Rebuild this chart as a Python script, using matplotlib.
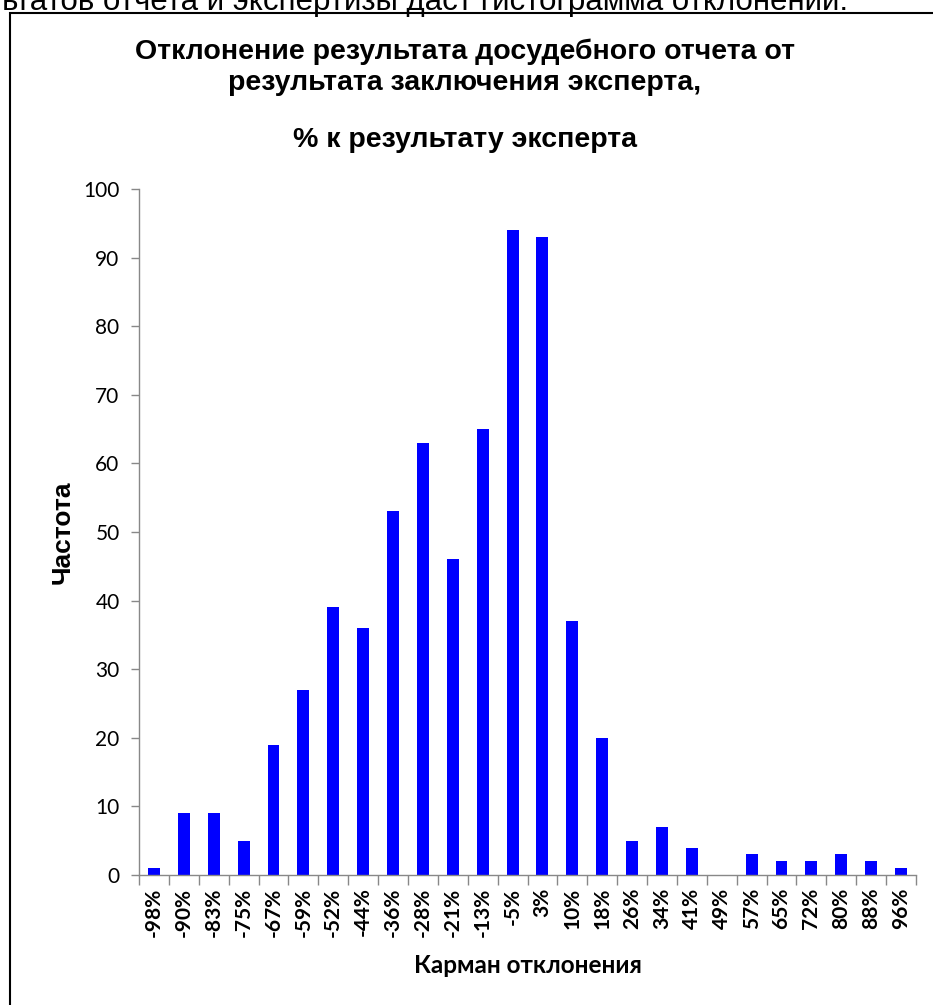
import matplotlib.pyplot as plt
from matplotlib.patches import Rectangle

# карманы отклонения и частоты
karmany = ['-98%', '-90%', '-83%', '-75%', '-67%', '-59%', '-52%', '-44%', '-36%',
           '-28%', '-21%', '-13%', '-5%', '3%', '10%', '18%', '26%', '34%', '41%',
           '49%', '57%', '65%', '72%', '80%', '88%', '96%']
chastota = [1, 9, 9, 5, 19, 27, 39, 36, 53, 63, 46, 65, 94, 93, 37, 20, 5, 7, 4,
            0, 3, 2, 2, 3, 2, 1]
y_ticks = [0, 10, 20, 30, 40, 50, 60, 70, 80, 90, 100]

fig = plt.figure(figsize=(9.33, 10.05), dpi=100)

# рамка диаграммы
fig.patches.append(Rectangle((10 / 933, -0.05), 1.0, 1 - 13 / 1005 + 0.05,
                             transform=fig.transFigure, fill=False,
                             edgecolor='black', linewidth=1.5))

# обрезанная строка текста сверху
fig.text(848 / 933, 1 - 10 / 1005, 'результатов отчета и экспертизы даст гистограмма отклонений.',
         ha='right', va='baseline', fontsize=22.5, family='Liberation Sans')

ax = fig.add_axes([139 / 933, 1 - 875 / 1005, (916 - 139) / 933, (875 - 189) / 1005])

x = list(range(len(karmany)))
ax.bar(x, chastota, width=0.4, color='#0000ff')

ax.set_xlim(-0.5, len(karmany) - 0.5)
ax.set_ylim(0, 100)
ax.set_yticks(y_ticks)
ax.set_yticklabels([str(v) for v in y_ticks], fontsize=15, family='Lato')

ax.set_xticks([i - 0.5 for i in range(len(karmany) + 1)])
ax.set_xticklabels([])
ax.set_xticks(x, minor=True)
ax.set_xticklabels(karmany, minor=True, rotation=90, fontsize=15,
                   fontweight='bold', family='Lato')
ax.tick_params(axis='x', which='major', length=7, color='#888888', width=1)
ax.tick_params(axis='x', which='minor', length=0, pad=9)
ax.tick_params(axis='y', length=6, color='#888888', width=1, pad=8)

for s in ['top', 'right']:
    ax.spines[s].set_visible(False)
for s in ['left', 'bottom']:
    ax.spines[s].set_color('#888888')
    ax.spines[s].set_linewidth(1)

ax.set_ylabel('Частота', fontsize=19, fontweight='bold', family='Liberation Sans', labelpad=6)
ax.set_xlabel('Карман отклонения', fontsize=17.5, fontweight='bold', family='Lato', labelpad=12)

fig.text(465 / 933, 1 - 52 / 1005, 'Отклонение результата досудебного отчета от',
         ha='center', va='center', fontsize=20.5, fontweight='bold', family='Liberation Sans')
fig.text(465 / 933, 1 - 83 / 1005, 'результата заключения эксперта,',
         ha='center', va='center', fontsize=20.5, fontweight='bold', family='Liberation Sans')
fig.text(465 / 933, 1 - 140 / 1005, '% к результату эксперта',
         ha='center', va='center', fontsize=20.5, fontweight='bold', family='Liberation Sans')

plt.savefig('out.png', dpi=100)
